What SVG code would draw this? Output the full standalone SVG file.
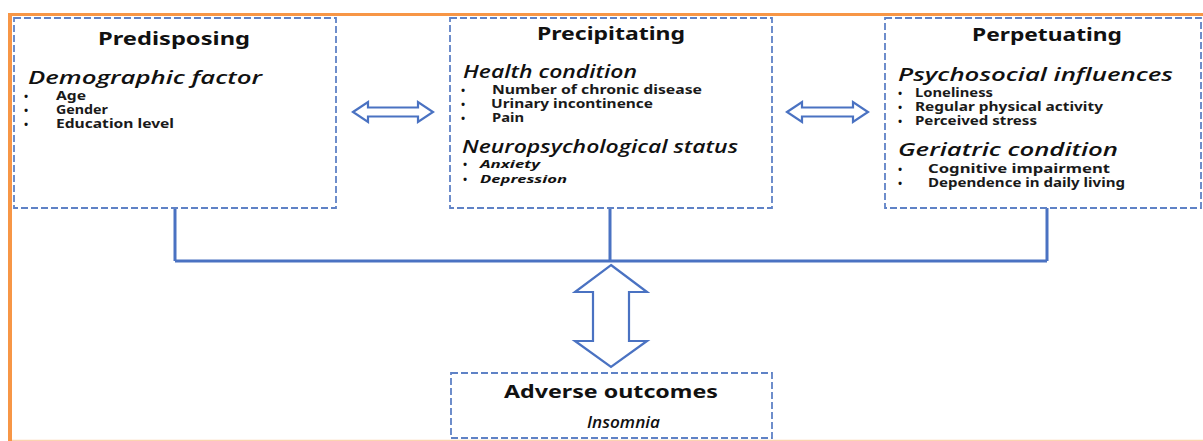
<svg xmlns="http://www.w3.org/2000/svg" width="1203" height="441" viewBox="0 0 1203 441">
<style>
.box{fill:#fff;stroke:#5f82c6;stroke-width:1.8;stroke-dasharray:7 3}
.conn{fill:none;stroke:#4a72c2;stroke-width:3}
.arr{fill:#fff;stroke:#4a72c2;stroke-width:2.2;stroke-linejoin:miter}
text{font-family:"Noto Sans","Open Sans",sans-serif;fill:#111}
.t{font-size:18px;font-weight:bold}
.h{font-family:"Open Sans","Noto Sans",sans-serif;font-size:17.5px;font-style:italic;font-weight:600}
.i{font-size:11.5px;font-weight:bold;fill:#1a1a1a}
.ii{font-size:10.5px;font-weight:bold;font-style:italic}
.b{font-size:11px;font-weight:bold}
</style>
<rect x="0" y="0" width="1203" height="441" fill="#fff"/>
<line x1="10" y1="14.5" x2="1203" y2="14.5" stroke="#f79646" stroke-width="3"/>
<line x1="10" y1="13" x2="10" y2="441" stroke="#f79646" stroke-width="4"/>
<line x1="12" y1="440.5" x2="1203" y2="440.5" stroke="#fbd3b0" stroke-width="1.5"/>

<g id="connectors">
<path class="conn" d="M175,208 V261 M610,208 V261 M1047,208 V261 M175,261 H1047"/>
<path class="arr" d="M353,112 L368,102 L368,107.5 L418,107.5 L418,102 L433,112 L418,122 L418,116.5 L368,116.5 L368,122 Z"/>
<path class="arr" d="M787,112 L802,102 L802,107.5 L853,107.5 L853,102 L868,112 L853,122 L853,116.5 L802,116.5 L802,122 Z"/>
<path class="arr" d="M611,265 L647,292 L629,292 L629,341 L647,341 L611,367 L575,341 L593,341 L593,292 L575,292 Z"/>
</g>

<g id="predisposing">
<rect class="box" x="14" y="18" width="322" height="190"/>
<text class="t" x="98" y="45" textLength="152" lengthAdjust="spacingAndGlyphs">Predisposing</text>
<text class="h" x="28" y="84" textLength="234" lengthAdjust="spacingAndGlyphs">Demographic factor</text>
<text class="b" x="24" y="100">•</text>
<text class="b" x="24" y="114">•</text>
<text class="b" x="24" y="128">•</text>
<text class="i" x="56" y="100" textLength="30" lengthAdjust="spacingAndGlyphs">Age</text>
<text class="i" x="56" y="114" textLength="52" lengthAdjust="spacingAndGlyphs">Gender</text>
<text class="i" x="56" y="128" textLength="118" lengthAdjust="spacingAndGlyphs">Education level</text>
</g>

<g id="precipitating">
<rect class="box" x="450" y="18" width="322" height="190"/>
<text class="t" x="537" y="40" textLength="148" lengthAdjust="spacingAndGlyphs">Precipitating</text>
<text class="h" x="463" y="78" textLength="174" lengthAdjust="spacingAndGlyphs">Health condition</text>
<text class="b" x="461" y="94">•</text>
<text class="b" x="461" y="108">•</text>
<text class="b" x="461" y="122">•</text>
<text class="i" x="492" y="94" textLength="210" lengthAdjust="spacingAndGlyphs">Number of chronic disease</text>
<text class="i" x="491" y="108" textLength="162" lengthAdjust="spacingAndGlyphs">Urinary incontinence</text>
<text class="i" x="492" y="122" textLength="32" lengthAdjust="spacingAndGlyphs">Pain</text>
<text class="h" x="462" y="153" textLength="276" lengthAdjust="spacingAndGlyphs">Neuropsychological status</text>
<text class="b" x="463" y="168">•</text>
<text class="b" x="463" y="183">•</text>
<text class="ii" x="480" y="168" textLength="60" lengthAdjust="spacingAndGlyphs">Anxiety</text>
<text class="ii" x="480" y="183" textLength="87" lengthAdjust="spacingAndGlyphs">Depression</text>
</g>

<g id="perpetuating">
<rect class="box" x="885" y="18" width="316" height="190"/>
<text class="t" x="972" y="41" textLength="150" lengthAdjust="spacingAndGlyphs">Perpetuating</text>
<text class="h" x="898" y="81" textLength="275" lengthAdjust="spacingAndGlyphs">Psychosocial influences</text>
<text class="b" x="898" y="97">•</text>
<text class="b" x="898" y="111">•</text>
<text class="b" x="898" y="125">•</text>
<text class="i" x="915" y="97" textLength="78" lengthAdjust="spacingAndGlyphs">Loneliness</text>
<text class="i" x="915" y="111" textLength="188" lengthAdjust="spacingAndGlyphs">Regular physical activity</text>
<text class="i" x="915" y="125" textLength="122" lengthAdjust="spacingAndGlyphs">Perceived stress</text>
<text class="h" x="898" y="156" textLength="220" lengthAdjust="spacingAndGlyphs">Geriatric condition</text>
<text class="b" x="898" y="173">•</text>
<text class="b" x="898" y="187">•</text>
<text class="i" x="928" y="173" textLength="182" lengthAdjust="spacingAndGlyphs">Cognitive impairment</text>
<text class="i" x="928" y="187" textLength="197" lengthAdjust="spacingAndGlyphs">Dependence in daily living</text>
</g>

<g id="adverse">
<rect class="box" x="451" y="373" width="321" height="65"/>
<text class="t" x="504" y="398" textLength="214" lengthAdjust="spacingAndGlyphs">Adverse outcomes</text>
<text class="h" x="587" y="428" style="font-size:15.5px" textLength="73" lengthAdjust="spacingAndGlyphs">Insomnia</text>
</g>
</svg>
